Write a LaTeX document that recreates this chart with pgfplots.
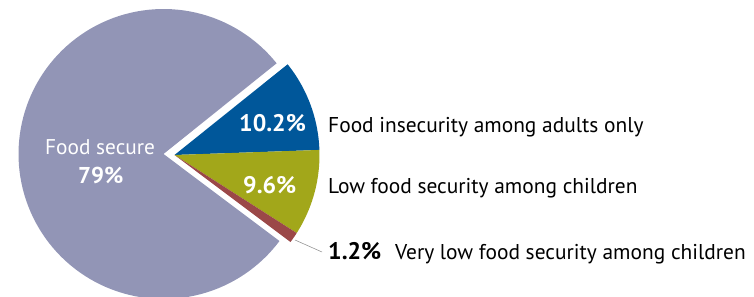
\documentclass[border=0pt]{standalone}
\usepackage{pgfplots}
\pgfplotsset{compat=1.18}
\usepackage{fontspec}
\setmainfont{PT Sans}
\definecolor{cSecure}{HTML}{9295B6}
\definecolor{cAdults}{HTML}{00579A}
\definecolor{cLow}{HTML}{A2A71A}
\definecolor{cVeryLow}{HTML}{9B4848}
% shares (percent)
\def\pAdults{10.2}
\def\pLow{9.6}
\def\pVeryLow{1.2}
\def\pSecure{79}
\def\rot{2}
\pgfmathsetmacro\aA{\rot+3.6*\pAdults}
\pgfmathsetmacro\aB{\rot-3.6*\pLow}
\pgfmathsetmacro\aC{\aB-3.6*\pVeryLow}
\pgfmathsetmacro\aD{\aA+3.6*\pSecure}
\def\R{145}
\def\cx{174.5}
\def\cy{142}
\def\ex{163.5}
\def\ey{143}
\begin{document}
\begin{tikzpicture}
\begin{axis}[width=754bp,height=297bp,scale only axis,
  xmin=0,xmax=754,ymin=0,ymax=297,hide axis]
% food secure (exploded)
\addplot[fill=cSecure,draw=none,domain=\aA:\aD,samples=120,variable=\t]
  ({\ex+\R*cos(\t)},{\ey+\R*sin(\t)}) -- (axis cs:\ex,\ey) -- cycle;
\addplot[fill=cAdults,draw=none,domain=\rot:\aA,samples=40,variable=\t]
  ({\cx+\R*cos(\t)},{\cy+\R*sin(\t)}) -- (axis cs:\cx,\cy) -- cycle;
\addplot[fill=cLow,draw=none,domain=\aB:\rot,samples=40,variable=\t]
  ({\cx+\R*cos(\t)},{\cy+\R*sin(\t)}) -- (axis cs:\cx,\cy) -- cycle;
\addplot[fill=cVeryLow,draw=none,domain=\aC:\aB,samples=10,variable=\t]
  ({\cx+\R*cos(\t)},{\cy+\R*sin(\t)}) -- (axis cs:\cx,\cy) -- cycle;
% leader line
\addplot[gray,line width=0.5bp] coordinates {(295,57) (322,45)};
% labels
\node[anchor=base west,inner sep=0pt,text=white,font=\fontsize{21.4}{21.4}\selectfont] at (axis cs:45,142) {Food secure};
\node[anchor=base west,inner sep=0pt,text=white,font=\fontsize{23}{23}\selectfont\bfseries] at (axis cs:78,113) {79\%};
\node[anchor=base west,inner sep=0pt,text=white,font=\fontsize{24}{24}\selectfont\bfseries] at (axis cs:239,165) {10.2\%};
\node[anchor=base west,inner sep=0pt,text=white,font=\fontsize{24}{24}\selectfont\bfseries] at (axis cs:243,103) {9.6\%};
\node[anchor=base west,inner sep=0pt,font=\fontsize{21.5}{21.5}\selectfont] at (axis cs:328,164) {Food insecurity among adults only};
\node[anchor=base west,inner sep=0pt,font=\fontsize{21.5}{21.5}\selectfont] at (axis cs:328,103) {Low food security among children};
\node[anchor=base west,inner sep=0pt,font=\fontsize{24}{24}\selectfont\bfseries] at (axis cs:328,37) {1.2\%};
\node[anchor=base west,inner sep=0pt,font=\fontsize{21.5}{21.5}\selectfont] at (axis cs:395,37) {Very low food security among children};
\end{axis}
\pgfresetboundingbox
\useasboundingbox (0,0) rectangle (754bp,297bp);
\end{tikzpicture}
\end{document}
